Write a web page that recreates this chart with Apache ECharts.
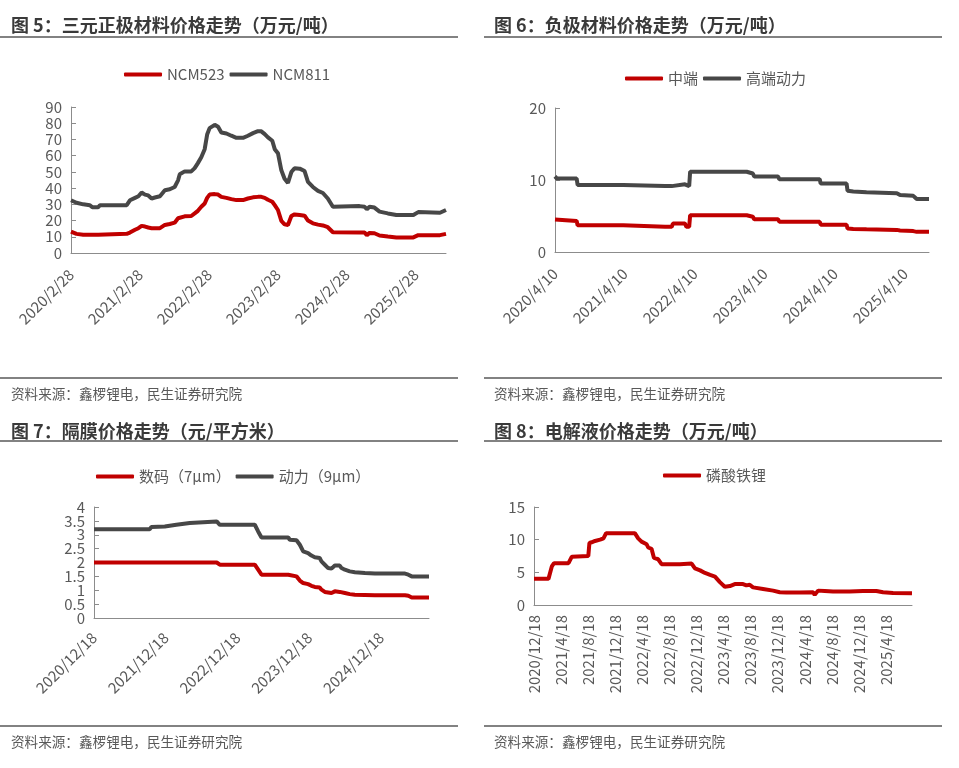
<!DOCTYPE html>
<html>
<head>
<meta charset="utf-8">
<script src="https://cdn.jsdelivr.net/npm/echarts@6/dist/echarts.min.js"></script>
<style>html,body{margin:0;padding:0;background:#fff}#c{width:959px;height:768px}</style>
</head>
<body>
<div id="c"></div>
<script>
// ---------- Fig 5: 三元正极材料价格 (万元/吨) ----------
const fig5Dates = ['2020/2/28','2020/3/28','2020/5/3','2020/6/7','2020/6/20','2020/7/21','2020/7/30','2020/12/19','2021/1/5','2021/2/1','2021/2/19','2021/3/8','2021/3/26','2021/4/12','2021/4/30','2021/5/17','2021/6/13','2021/7/9','2021/8/4','2021/8/30','2021/9/17','2021/9/26','2021/10/22','2021/11/26','2021/12/14','2021/12/31','2022/1/18','2022/2/5','2022/2/18','2022/3/3','2022/3/30','2022/4/17','2022/5/4','2022/5/31','2022/6/26','2022/7/23','2022/8/27','2022/9/22','2022/10/19','2022/11/14','2022/12/2','2022/12/20','2023/1/6','2023/1/29','2023/2/11','2023/2/28','2023/3/18','2023/4/4','2023/4/22','2023/5/10','2023/5/27','2023/6/23','2023/7/19','2023/7/28','2023/8/6','2023/9/1','2023/9/28','2023/10/24','2023/11/19','2023/12/16','2024/5/5','2024/6/1','2024/6/13','2024/6/27','2024/7/23','2024/8/19','2024/10/2','2024/11/16','2025/2/14','2025/3/12','2025/7/5','2025/8/6'];
const ncm523 = [13.2,11.8,11.2,11.2,11.2,11.3,11.8,11.8,12.6,14.3,15.3,16.7,16.3,15.7,15.3,15.3,15.3,17.3,17.9,18.7,21.4,22.2,22.6,22.8,24.4,26,28.5,30.5,34,36,36.3,36,34.6,34,33.2,32.6,32.6,33.6,34.3,34.6,34.6,34,32.8,31.6,29.5,26.5,19.8,17.7,17.3,22.8,23.8,23.4,23,22.8,20,18.3,17.5,17,15.9,12.8,12.6,12.6,11,12.4,12.2,10.8,10.2,9.6,9.6,11,11,11.8];
const ncm811 = [32.5,31,30,29.5,28.2,28.2,29.5,29.5,32.5,34,35,37.3,36,35.5,33.6,34.2,35,38.7,39.3,40.7,44.8,48.5,50.3,50.3,52.3,55.4,59,64,73,77,79,77.8,74.3,73.7,72.3,71,71,72.3,73.9,75.1,75,73.3,71.3,69.2,64,61.5,51,45.8,43.2,49.9,52.3,52,50.5,50.5,43.8,40.7,38.3,37,33.6,28.5,28.9,28.5,27,28.5,28,25.5,24.4,23.4,23.4,25.2,24.8,26.5];
const fig5Ticks = ['2020/2/28','2021/2/28','2022/2/28','2023/2/28','2024/2/28','2025/2/28'];

// ---------- Fig 6: 负极材料价格 (万元/吨) ----------
const fig6Dates = ['2020/4/10','2020/4/20','2020/8/1','2020/8/6','2021/4/1','2021/4/5','2021/11/5','2021/11/10','2021/11/16','2021/11/23','2021/11/29','2021/12/10','2021/12/16','2022/2/17','2022/2/24','2022/3/11','2022/3/16','2023/1/5','2023/1/14','2023/2/6','2023/2/13','2023/6/18','2023/6/24','2024/1/21','2024/1/26','2024/6/9','2024/6/14','2024/7/14','2024/9/21','2025/2/26','2025/3/15','2025/5/23','2025/6/10','2025/8/13'];
const anodeMid  = [4.5,4.3,4.3,3.7,3.7,3.5,3.5,3.7,3.5,3.7,3.5,3.5,3.95,3.95,3.5,3.5,5.1,5.1,4.9,4.9,4.55,4.55,4.2,4.2,3.8,3.8,3.25,3.2,3.15,3.07,3.0,2.9,2.8,2.8];
const anodeHigh = [10.5,10.2,10.2,9.3,9.3,9.15,9.15,9.4,9.15,9.4,9.15,9.15,9.4,9.4,9.15,9.15,11.15,11.15,10.9,10.9,10.5,10.5,10.1,10.1,9.5,9.5,8.5,8.4,8.3,8.15,7.9,7.8,7.35,7.35];
const fig6Ticks = ['2020/4/10','2021/4/10','2022/4/10','2023/4/10','2024/4/10','2025/4/10'];

// ---------- Fig 7: 隔膜价格 (元/平方米) ----------
const fig7Dates = ['2020/12/18','2021/9/27','2021/10/6','2021/10/14','2021/12/13','2021/12/21','2022/2/10','2022/2/19','2022/4/19','2022/4/27','2022/9/3','2022/9/19','2023/3/16','2023/4/2','2023/4/19','2023/9/2','2023/9/10','2023/10/14','2023/10/31','2023/11/17','2023/12/12','2023/12/29','2024/1/15','2024/2/9','2024/2/18','2024/3/6','2024/3/23','2024/4/9','2024/4/26','2024/5/21','2024/5/30','2024/6/16','2024/7/11','2024/8/6','2024/9/26','2024/11/16','2025/1/24','2025/4/18','2025/5/5','2025/5/22','2025/8/18'];
const sep7um = [2.0,2.0,2.0,2.0,2.0,2.0,2.0,2.0,2.0,2.0,2.0,1.92,1.92,1.74,1.56,1.56,1.5,1.5,1.35,1.26,1.22,1.16,1.12,1.1,1.02,0.94,0.92,0.9,0.96,0.94,0.92,0.9,0.86,0.84,0.83,0.82,0.82,0.82,0.8,0.74,0.74];
const sep9um = [3.2,3.2,3.28,3.3,3.3,3.36,3.36,3.42,3.42,3.48,3.48,3.36,3.36,3.12,2.9,2.9,2.82,2.8,2.64,2.4,2.34,2.25,2.19,2.16,2.04,1.92,1.8,1.78,1.89,1.89,1.8,1.74,1.68,1.65,1.62,1.6,1.6,1.6,1.56,1.5,1.5];
const fig7Ticks = ['2020/12/18','2021/12/18','2022/12/18','2023/12/18','2024/12/18'];
const fig7YTicks = [0, 0.5, 1, 1.5, 2, 2.5, 3, 3.5, 4];

// ---------- Fig 8: 电解液价格 (万元/吨) ----------
const fig8Dates = ['2020/12/18','2021/2/21','2021/3/1','2021/3/8','2021/3/18','2021/5/22','2021/6/6','2021/8/19','2021/8/24','2021/9/3','2021/9/18','2021/10/11','2021/10/26','2021/11/7','2022/3/16','2022/3/31','2022/4/15','2022/5/8','2022/5/15','2022/5/30','2022/6/10','2022/6/29','2022/7/14','2022/10/4','2022/10/12','2022/11/26','2022/12/11','2023/1/3','2023/1/25','2023/2/17','2023/3/11','2023/4/2','2023/4/24','2023/5/17','2023/6/8','2023/7/15','2023/7/30','2023/8/14','2023/8/29','2023/10/13','2023/11/27','2023/12/27','2024/1/25','2024/3/26','2024/5/25','2024/6/1','2024/6/16','2024/7/16','2024/8/22','2024/11/5','2025/1/4','2025/3/5','2025/4/4','2025/5/19','2025/8/12'];
const electrolyteLFP = [4.0,4.0,4.2,5.9,6.4,6.4,7.4,7.5,9.5,9.6,9.8,10.0,10.2,11.0,11.0,10.2,9.7,9.3,8.8,8.6,7.2,7.0,6.25,6.25,6.35,6.35,5.6,5.3,4.9,4.6,4.35,3.5,2.8,2.9,3.2,3.2,3.0,3.1,2.7,2.45,2.2,1.95,1.9,1.9,1.95,1.55,2.2,2.15,2.05,2.05,2.15,2.15,1.95,1.85,1.8];
const fig8Ticks = ['2020/12/18','2021/4/18','2021/8/18','2021/12/18','2022/4/18','2022/8/18','2022/12/18','2023/4/18','2023/8/18','2023/12/18','2024/4/18','2024/8/18','2024/12/18','2025/4/18'];

const titles = ['图 5：三元正极材料价格走势（万元/吨）','图 6：负极材料价格走势（万元/吨）','图 7：隔膜价格走势（元/平方米）','图 8：电解液价格走势（万元/吨）'];
const sourceText = '资料来源：鑫椤锂电，民生证券研究院';

const FONT = "'Noto Sans CJK SC', 'Noto Sans', sans-serif";
const RED = '#C00000', GRAY = '#474747', TXT = '#595959', AX = '#8c8c8c';

const ts = s => new Date(s).getTime();
const pairs = (d, v) => d.map((x, i) => [ts(x), v[i]]);
const fmtDate = v => { const d = new Date(v); return d.getFullYear() + '/' + (d.getMonth() + 1) + '/' + d.getDate(); };

function xAx(gi, dates, ticks, rot, margin) {
  return {
    type: 'value', gridIndex: gi, min: ts(dates[0]), max: ts(dates[dates.length - 1]), scale: true,
    axisLine: { lineStyle: { color: AX, width: 1 } },
    axisTick: { show: false },
    splitLine: { show: false },
    axisLabel: { customValues: ticks.map(ts), formatter: fmtDate, rotate: rot, margin: margin,
      showMinLabel: true, showMaxLabel: true,
      color: TXT, fontSize: 15, fontFamily: FONT, hideOverlap: false }
  };
}
function yAx(gi, max, interval, showLabels) {
  return {
    type: 'value', gridIndex: gi, min: 0, max: max, interval: interval,
    axisLine: { show: true, lineStyle: { color: AX, width: 1 } },
    axisTick: { show: true, inside: true, length: 5, lineStyle: { color: AX } },
    splitLine: { show: false },
    axisLabel: { show: showLabels, color: TXT, fontSize: 15, fontFamily: FONT, margin: 9,
      showMinLabel: true, showMaxLabel: true, hideOverlap: false }
  };
}
function ser(name, xi, data, color) {
  return { type: 'line', name: name, xAxisIndex: xi, yAxisIndex: xi, data: data,
    showSymbol: false, symbol: 'none', lineStyle: { width: 4, color: color }, itemStyle: { color: color },
    animation: false };
}
function leg(names, left, top) {
  return { data: names, left: left, top: top, padding: 0, icon: 'roundRect', itemWidth: 38, itemHeight: 4, itemGap: 5,
    textStyle: { color: TXT, fontSize: 15, fontFamily: FONT }, selectedMode: false };
}

const gfx = [];
function hline(x1, x2, y) { gfx.push({ type: 'line', shape: { x1: x1, y1: y, x2: x2, y2: y }, style: { stroke: '#595959', lineWidth: 1.5 }, silent: true }); }
function txt(s, x, y, size, bold, color, align) {
  gfx.push({ type: 'text', x: x, y: y, style: { text: s, fontSize: size, fontWeight: bold ? 'bold' : 'normal', fontFamily: FONT, fill: color, verticalAlign: 'middle', align: align || 'left' }, silent: true });
}
txt(titles[0], 11, 25, 18, true, '#3a3a3a');
txt(titles[1], 494, 25, 18, true, '#3a3a3a');
txt(titles[2], 11, 431, 18, true, '#3a3a3a');
txt(titles[3], 494, 431, 18, true, '#3a3a3a');
hline(0, 458, 37); hline(484, 942, 37);
hline(0, 458, 441); hline(484, 942, 441);
hline(0, 458, 378); hline(484, 942, 378);
hline(0, 458, 726); hline(484, 942, 726);
txt(sourceText, 11, 394, 13.6, false, TXT);
txt(sourceText, 494, 394, 13.6, false, TXT);
txt(sourceText, 11, 742, 13.6, false, TXT);
txt(sourceText, 494, 742, 13.6, false, TXT);

const option = {
  backgroundColor: '#fff',
  animation: false,
  textStyle: { fontFamily: FONT },
  grid: [
    { left: 71, top: 107, width: 375, height: 146 },
    { left: 555, top: 108, width: 374, height: 144 },
    { left: 94, top: 507, width: 335, height: 111 },
    { left: 534, top: 507, width: 378, height: 98 }
  ],
  xAxis: [ xAx(0, fig5Dates, fig5Ticks, 45, 19), xAx(1, fig6Dates, fig6Ticks, 45, 19), xAx(2, fig7Dates, fig7Ticks, 45, 17), xAx(3, fig8Dates, fig8Ticks, 90, 10) ],
  yAxis: [ yAx(0, 90, 10, true), yAx(1, 20, 10, true), yAx(2, 4, 0.5, false), yAx(3, 15, 5, true) ],
  legend: [
    leg(['NCM523', 'NCM811'], 124, 67),
    leg(['中端', '高端动力'], 625, 71),
    leg(['数码（7μm）', '动力（9μm）'], 96, 469),
    leg(['磷酸铁锂'], 663, 468)
  ],
  series: [
    ser('NCM523', 0, pairs(fig5Dates, ncm523), RED),
    ser('NCM811', 0, pairs(fig5Dates, ncm811), GRAY),
    ser('中端', 1, pairs(fig6Dates, anodeMid), RED),
    ser('高端动力', 1, pairs(fig6Dates, anodeHigh), GRAY),
    ser('数码（7μm）', 2, pairs(fig7Dates, sep7um), RED),
    ser('动力（9μm）', 2, pairs(fig7Dates, sep9um), GRAY),
    ser('磷酸铁锂', 3, pairs(fig8Dates, electrolyteLFP), RED)
  ]
};
const chart = echarts.init(document.getElementById('c'), null, { renderer: 'canvas' });
chart.setOption(option);
// Fig 7 y tick labels are dense (they overlap in the source too), so place them via the axis scale.
const fig7AxisX = chart.convertToPixel({ xAxisIndex: 2 }, ts(fig7Dates[0]));
fig7YTicks.forEach(v => {
  const py = chart.convertToPixel({ yAxisIndex: 2 }, v);
  txt(String(v), fig7AxisX - 9, py, 15, false, TXT, 'right');
});
chart.setOption({ graphic: { elements: gfx } });
</script>
</body>
</html>
